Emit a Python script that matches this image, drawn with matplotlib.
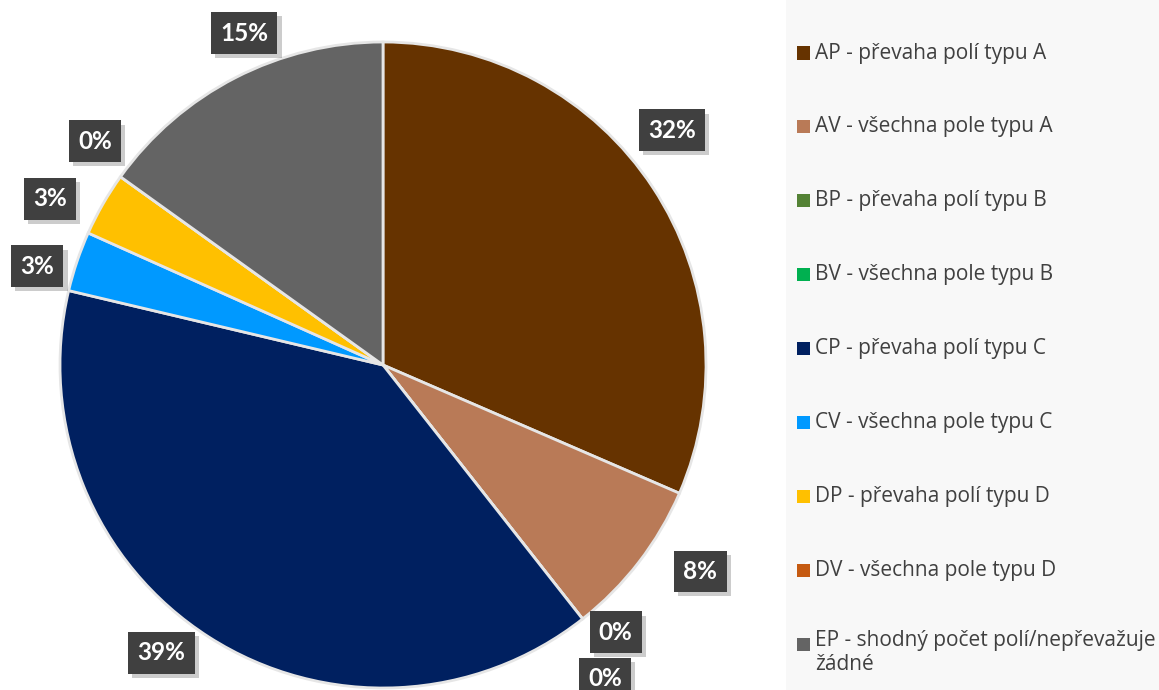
import numpy as np
import matplotlib.pyplot as plt
import matplotlib.patheffects as pe
from matplotlib.patches import Rectangle

# data (shares in %)
labels = ["AP - převaha polí typu A", "AV - všechna pole typu A", "BP - převaha polí typu B",
          "BV - všechna pole typu B", "CP - převaha polí typu C", "CV - všechna pole typu C",
          "DP - převaha polí typu D", "DV - všechna pole typu D",
          "EP - shodný počet polí/nepřevažuje\nžádné"]
values = [31.5, 7.9, 0.0, 0.0, 39.3, 3.0, 3.2, 0.0, 15.1]
colors = ["#663300", "#B97A57", "#548235", "#00B050", "#002060", "#0099FF",
          "#FFC000", "#C55A11", "#646464"]

# label placement tweaks (radius factor, angle nudge in degrees)
lab_r = [1.153, 1.172, 1.097, 1.19, 1.125, 1.113, 1.153, 1.13, 1.114]
lab_da = [5.8, 4.6, 2.9, -2.9, -5.0, 2.75, 3.4, -2.2, -4.5]

W, H = 1159, 690
fig = plt.figure(figsize=(W / 100, H / 100), dpi=100)
fig.patch.set_facecolor("white")

# legend panel
fig.patches.append(Rectangle((786 / W, 0), 1 - 786 / W, 1, transform=fig.transFigure,
                             facecolor="#F8F8F8", edgecolor="none", zorder=0))

cx, cy, R = 383, 365, 323
ax = fig.add_axes([(cx - R) / W, (H - cy - R) / H, 2 * R / W, 2 * R / H])
wedges, _ = ax.pie(values, colors=colors, startangle=90, counterclock=False,
                   wedgeprops=dict(edgecolor="#E6E6E6", linewidth=2))
ax.set_xlim(-1, 1)
ax.set_ylim(-1, 1)
ax.set_aspect("auto")
ax.axis("off")

# data labels
total = sum(values)
start = 90.0
for i, v in enumerate(values):
    span = v / total * 360
    mid = start - span / 2
    start -= span
    a = np.deg2rad(mid + lab_da[i])
    x, y = lab_r[i] * np.cos(a), lab_r[i] * np.sin(a)
    t = ax.text(x, y, f"{round(v):d}%", ha="center", va="center", fontsize=17.5,
                fontweight="bold", family="Lato", color="white",
                bbox=dict(boxstyle="square,pad=0.38", facecolor="#404040", edgecolor="none"),
                clip_on=False, zorder=5)
    t.get_bbox_patch().set_path_effects([
        pe.SimplePatchShadow(offset=(3, -3), shadow_rgbFace="black", alpha=0.2),
        pe.Normal()])

# legend
for i, lab in enumerate(labels):
    ycen = 53 + i * 73.9
    fig.patches.append(Rectangle((797 / W, (H - ycen - 6.5) / H), 13 / W, 13 / H,
                                 transform=fig.transFigure, facecolor=colors[i],
                                 edgecolor="none", zorder=2))
    if "\n" in lab:
        fig.text(815 / W, (H - ycen + 14) / H, lab, ha="left", va="top",
                 fontsize=15, family="Open Sans", color="#404040", linespacing=1.15)
    else:
        fig.text(815 / W, (H - ycen) / H, lab, ha="left", va="center",
                 fontsize=15, family="Open Sans", color="#404040")

fig.savefig("out.png", dpi=100)
